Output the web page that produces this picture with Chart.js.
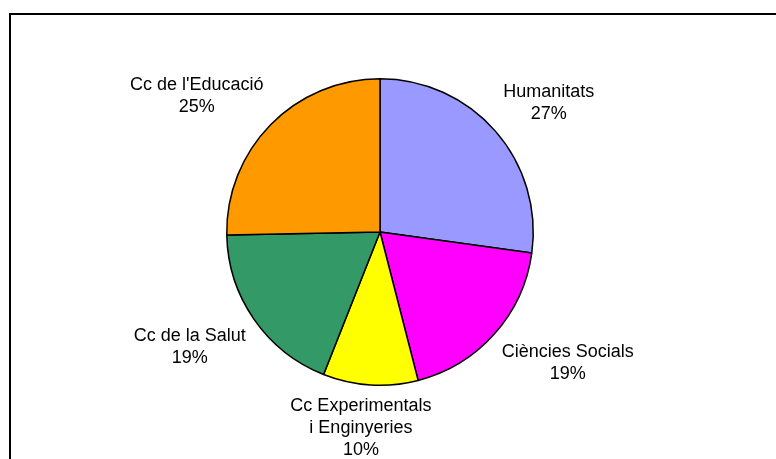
<!DOCTYPE html>
<html>
<head>
<meta charset="utf-8">
<script src="https://cdn.jsdelivr.net/npm/chart.js@4"></script>
<style>
  html, body { margin: 0; padding: 0; background: #fff; }
  .frame {
    position: absolute; left: 9px; top: 13px; width: 900px; height: 600px;
    border-left: 2px solid #000; border-top: 2px solid #000;
  }
  .wrap { position: absolute; left: 0; top: 0; width: 776px; height: 459px; }
</style>
</head>
<body>
<div class="frame"></div>
<div class="wrap"><canvas id="myChart" width="776" height="459"></canvas></div>
<script>
const labels = [
  ['Humanitats'],
  ['Ciències Socials'],
  ['Cc Experimentals', 'i Enginyeries'],
  ['Cc de la Salut'],
  ["Cc de l'Educació"],
];
const values = [27.2, 18.8, 10.0, 18.7, 25.3];
const colors = ['#9999FF', '#FF00FF', '#FFFF00', '#339966', '#FF9900'];

const outsideLabels = {
  id: 'outsideLabels',
  afterDraw(chart) {
    const ctx = chart.ctx;
    const meta = chart.getDatasetMeta(0);
    const total = values.reduce((a, b) => a + b, 0);
    const lineH = 22;
    ctx.save();
    ctx.font = '18px "Liberation Sans", Arial, sans-serif';
    ctx.fillStyle = '#000';
    ctx.textAlign = 'center';
    ctx.textBaseline = 'middle';
    meta.data.forEach((arc, i) => {
      const mid = (arc.startAngle + arc.endAngle) / 2;
      const r = arc.outerRadius + 10;
      const ux = Math.cos(mid), uy = Math.sin(mid);
      const ax = arc.x + ux * r;
      const ay = arc.y + uy * r;
      const lines = labels[i].concat([Math.round(values[i] / total * 100) + '%']);
      const w = Math.max(...lines.map(l => ctx.measureText(l).width));
      const h = lines.length * lineH;
      const sx = Math.max(-1, Math.min(1, ux * 2));
      const sy = Math.max(-1, Math.min(1, uy * 2));
      const cx = ax + sx * w / 2;
      const cy = ay + sy * h / 2;
      lines.forEach((l, j) => {
        ctx.fillText(l, cx, cy - h / 2 + lineH * (j + 0.5));
      });
    });
    ctx.restore();
  }
};

const config = {
  type: 'pie',
  data: {
    labels: labels.map(l => l.join(' ')),
    datasets: [{
      data: values,
      backgroundColor: colors,
      borderColor: '#000',
      borderWidth: 1.5,
    }]
  },
  options: {
    responsive: false,
    animation: false,
    layout: { padding: { top: 78, bottom: 73, left: 226, right: 242 } },
    plugins: {
      legend: { display: false },
      tooltip: { enabled: false },
    },
  },
  plugins: [outsideLabels],
};

const myChart = new Chart(document.getElementById('myChart'), config);
</script>
</body>
</html>
